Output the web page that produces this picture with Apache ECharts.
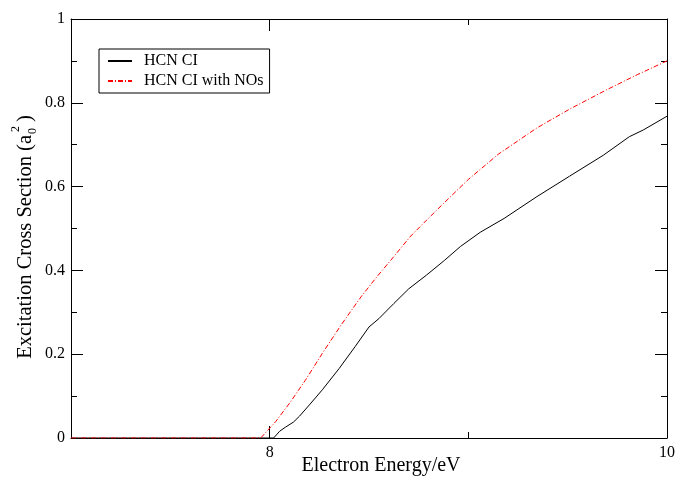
<!DOCTYPE html>
<html>
<head>
<meta charset="utf-8">
<script src="https://cdn.jsdelivr.net/npm/echarts@6/dist/echarts.min.js"></script>
<style>
  html, body { margin: 0; padding: 0; background: #fff; }
  #chart { width: 676px; height: 477px; }
</style>
</head>
<body>
<div id="chart"></div>
<script>
// HCN CI
const hcnEnergy = [7, 8.02, 8.05, 8.08, 8.12, 8.15, 8.2, 8.265, 8.35, 8.43, 8.5, 8.55, 8.625, 8.7, 8.79, 8.88, 8.96, 9.06, 9.18, 9.345, 9.51, 9.68, 9.81, 9.88, 10];
const hcnCross = [0, 0, 0.016, 0.026, 0.038, 0.052, 0.079, 0.115, 0.166, 0.218, 0.265, 0.285, 0.321, 0.356, 0.389, 0.424, 0.457, 0.491, 0.524, 0.576, 0.625, 0.675, 0.719, 0.735, 0.768];

// HCN CI with NOs
const nosEnergy = [7, 7.955, 8.03, 8.1, 8.18, 8.265, 8.36, 8.46, 8.54, 8.625, 8.71, 8.79, 8.88, 9.0, 9.15, 9.345, 9.51, 9.7, 9.85, 10];
const nosCross = [0, 0, 0.039, 0.083, 0.138, 0.202, 0.27, 0.337, 0.385, 0.433, 0.482, 0.52, 0.562, 0.617, 0.677, 0.74, 0.785, 0.832, 0.867, 0.9];

const xLabelTicks = [8, 10];
const xMinorTicks = [9];

const font = 'Liberation Serif';

const chart = echarts.init(document.getElementById('chart'));

function pairs(xs, ys) {
  return xs.map((x, i) => [x, ys[i]]);
}

function xTickAxis(pos, ticks, len, withLine) {
  return {
    type: 'value',
    position: pos,
    min: 7,
    max: 10,
    interval: 1,
    axisLine: { show: withLine, onZero: false, lineStyle: { color: '#000', width: 1 } },
    axisTick: { show: true, inside: true, length: len, customValues: ticks, lineStyle: { color: '#000' } },
    axisLabel: { show: false },
    splitLine: { show: false }
  };
}

function yAxisSide(pos, labels) {
  return {
    type: 'value',
    position: pos,
    min: 0,
    max: 1,
    interval: 0.2,
    axisLine: { show: true, onZero: false, lineStyle: { color: '#000', width: 1 } },
    axisTick: { show: true, inside: true, length: 12, lineStyle: { color: '#000' } },
    minorTick: { show: true, splitNumber: 2, length: 6, lineStyle: { color: '#000' } },
    axisLabel: { show: labels, margin: 6, fontFamily: font, fontSize: 16, color: '#000' },
    splitLine: { show: false }
  };
}

const bottomAxis = xTickAxis('bottom', xLabelTicks, 12, true);
bottomAxis.axisLabel = { show: true, customValues: xLabelTicks, margin: 7, fontFamily: font, fontSize: 16, color: '#000' };
bottomAxis.name = 'Electron Energy/eV';
bottomAxis.nameLocation = 'middle';
bottomAxis.nameGap = 18;
bottomAxis.nameMoveOverlap = false;
bottomAxis.nameTextStyle = { fontFamily: font, fontSize: 20, color: '#000', padding: [0, 0, 0, 24] };

const titleFont = '20.5px "Liberation Serif"';
const smallFont = '12px "Liberation Serif"';

const option = {
  animation: false,
  backgroundColor: '#fff',
  grid: { left: 71, right: 9, top: 19, bottom: 39, containLabel: false, outerBoundsMode: 'none' },
  legend: {
    orient: 'vertical',
    left: 99,
    top: 49,
    padding: [4, 6, 4, 8],
    itemGap: 4,
    itemWidth: 24,
    itemHeight: 14,
    borderColor: '#000',
    borderWidth: 1,
    borderRadius: 0,
    itemStyle: { opacity: 0 },
    textStyle: { fontFamily: font, fontSize: 16, color: '#000', padding: [0, 0, 0, 7] },
    data: ['HCN CI', 'HCN CI with NOs']
  },
  xAxis: [
    bottomAxis,
    xTickAxis('bottom', xMinorTicks, 6, false),
    xTickAxis('top', xLabelTicks, 12, true),
    xTickAxis('top', xMinorTicks, 6, false)
  ],
  yAxis: [yAxisSide('left', true), yAxisSide('right', false)],
  graphic: [{
    type: 'group',
    x: 26,
    y: 135,
    rotation: Math.PI / 2,
    children: [
      { type: 'text', style: { text: 'Excitation Cross Section (a', x: 0, y: 0, font: titleFont, fill: '#000', align: 'right', verticalAlign: 'middle' } },
      { type: 'text', style: { text: '0', x: 1, y: 7, font: smallFont, fill: '#000', align: 'left', verticalAlign: 'middle' } },
      { type: 'text', style: { text: '2', x: 3, y: -10, font: smallFont, fill: '#000', align: 'left', verticalAlign: 'middle' } },
      { type: 'text', style: { text: ')', x: 13, y: 0, font: titleFont, fill: '#000', align: 'left', verticalAlign: 'middle' } }
    ]
  }],
  series: [
    {
      name: 'HCN CI',
      type: 'line',
      data: pairs(hcnEnergy, hcnCross),
      symbol: 'none',
      color: '#000',
      lineStyle: { color: '#000', width: 1 }
    },
    {
      name: 'HCN CI with NOs',
      type: 'line',
      data: pairs(nosEnergy, nosCross),
      symbol: 'none',
      color: '#ff0000',
      lineStyle: { color: '#ff0000', width: 1, type: [5, 2, 1, 2] }
    }
  ]
};

chart.setOption(option);
</script>
</body>
</html>
